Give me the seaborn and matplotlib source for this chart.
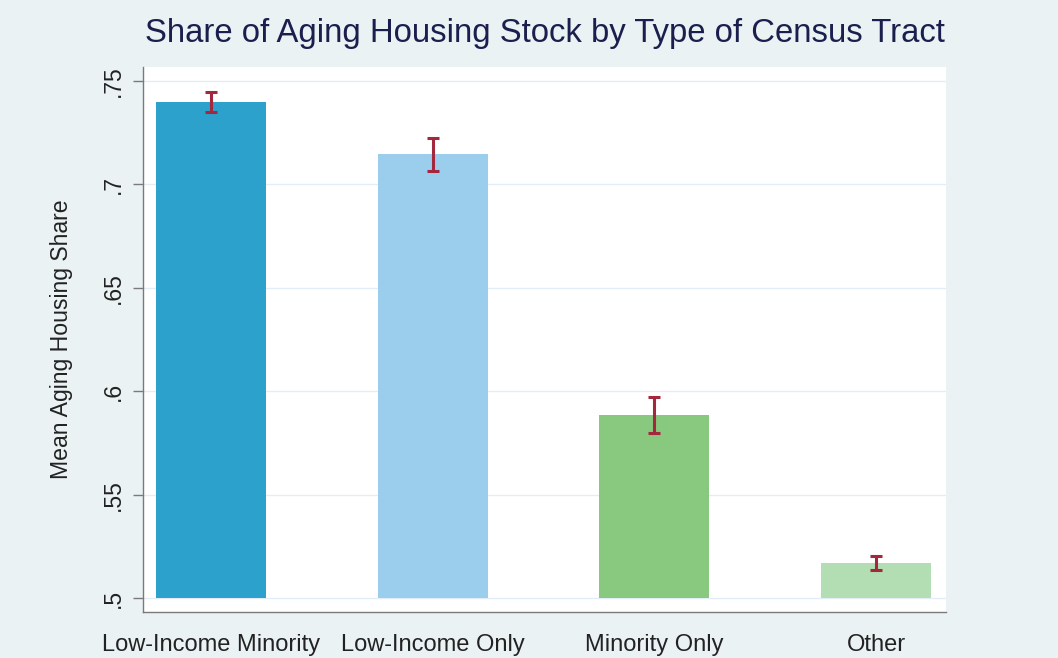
import numpy as np
import matplotlib
matplotlib.use("Agg")
import matplotlib.pyplot as plt
import seaborn as sns

# data
tract_types = ["Low-Income Minority", "Low-Income Only", "Minority Only", "Other"]
mean_share = np.array([0.7397, 0.7147, 0.5885, 0.5169])
ci_low = np.array([0.7350, 0.7066, 0.5799, 0.5134])
ci_high = np.array([0.7448, 0.7223, 0.5973, 0.5205])
y_ticks = [0.5, 0.55, 0.6, 0.65, 0.7, 0.75]
y_tick_labels = [".5", ".55", ".6", ".65", ".7", ".75"]

bar_colors = ["#2ba1cb", "#9bcded", "#88c97f", "#b3ddb3"]
bg = "#eaf2f3"

sns.set_theme(style="white")
plt.rcParams["font.family"] = ["Liberation Sans", "DejaVu Sans"]

fig = plt.figure(figsize=(10.58, 6.58), dpi=100, facecolor=bg)
ax = fig.add_axes([0.1352, 0.0699, 0.7590, 0.8283])
ax.set_facecolor("white")

sns.barplot(x=tract_types, y=mean_share, hue=tract_types, palette=bar_colors,
            legend=False, width=0.496, saturation=1, ax=ax, zorder=2)

# Stata draws bars from the bottom of the axis range
base = y_ticks[0]
for p in ax.patches:
    top = p.get_height()
    p.set_y(base)
    p.set_height(top - base)
    p.set_edgecolor("none")

ax.errorbar(x=np.arange(len(tract_types)), y=mean_share,
            yerr=[mean_share - ci_low, ci_high - mean_share],
            fmt="none", ecolor="#a3283e", elinewidth=2.2, capsize=4.5,
            capthick=2.2, zorder=3)

ax.set_ylim(0.4932, 0.7568)
ax.set_xlim(-0.306, 3.315)
ax.set_yticks(y_ticks)
ax.set_yticklabels(y_tick_labels)
ax.yaxis.grid(True, color="#e2edf7", lw=1, zorder=0)
ax.set_axisbelow(True)

for s in ["top", "right"]:
    ax.spines[s].set_visible(False)
for s in ["left", "bottom"]:
    ax.spines[s].set_color("#7a7a7a")
    ax.spines[s].set_linewidth(1)

ax.tick_params(axis="y", left=True, length=7, width=1, color="#7a7a7a",
               labelrotation=90, labelsize=16.5, pad=6, labelcolor="#222222")
ax.tick_params(axis="x", bottom=False, length=0, labelsize=17, pad=16,
               labelcolor="#222222")
for lbl in ax.get_yticklabels():
    lbl.set_va("center")

ax.set_ylabel("Mean Aging Housing Share", fontsize=16.6, color="#222222", labelpad=21)
ax.set_xlabel("")
ax.set_title("Share of Aging Housing Stock by Type of Census Tract",
             fontsize=23.7, color="#1b1f4e", pad=18)

fig.savefig("out.png", dpi=100, facecolor=bg)
